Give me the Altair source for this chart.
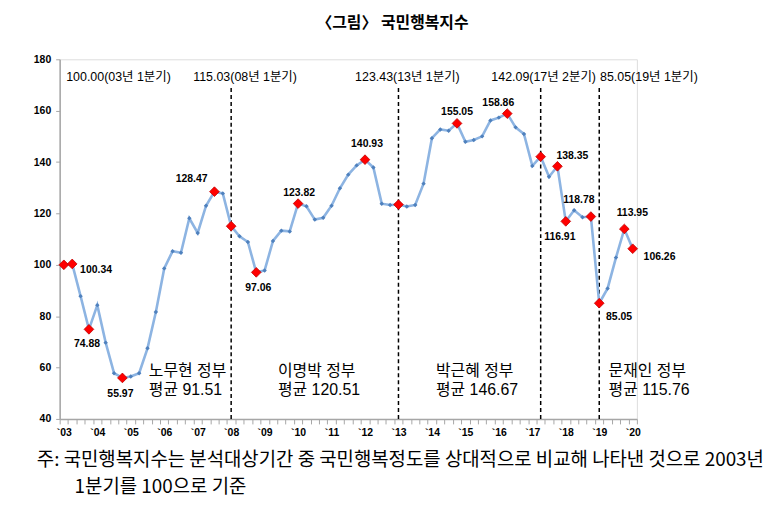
import altair as alt
import pandas as pd

# ---------------- data ----------------
start_year = 2003
values = [100.00, 100.34, 87.8, 74.88, 84.3, 69.7, 57.8, 55.97, 56.5, 57.8,
          67.5, 81.6, 98.6, 105.3, 104.7, 118.1, 112.4, 123.0, 128.47, 127.8,
          115.03, 111.1, 108.9, 97.06, 97.8, 109.3, 113.3, 113.0, 123.82, 122.8,
          117.6, 118.3, 123.0, 129.8, 135.1, 138.7, 140.93, 137.9, 123.8, 123.3,
          123.43, 122.7, 123.3, 131.6, 149.3, 152.7, 152.2, 155.05, 147.9, 148.6,
          150.0, 156.2, 157.3, 158.86, 153.5, 150.9, 138.5, 142.09, 134.3, 138.35,
          116.91, 121.2, 118.5, 118.78, 85.05, 90.8, 102.8, 113.95, 106.26]

highlight_idx = [0, 1, 3, 7, 18, 20, 23, 28, 36, 40, 47, 53, 57, 59, 60, 63, 64, 67, 68]
labeled_idx = [1, 3, 7, 18, 23, 28, 36, 47, 53, 59, 60, 63, 64, 67, 68]
label_dx = [24, -2, -2, -23, 2, 1, 2, 0, -9, 15, -6, -12, 20, 8, 27]
label_dy = [6, 15, 16, -13, 16, -11, -16, -11, -11, -10, 16, -17, 14, -16, 8]

divider_idx = [20, 40, 57, 64]
top_notes = ["100.00(03년 1분기)", "115.03(08년 1분기)", "123.43(13년 1분기)",
             "142.09(17년 2분기)", "85.05(19년 1분기)"]
top_note_idx = [0, 20, 40, 57, 64]
top_note_dx = [55, 14, 9, 3, 50]

gov_names = ["노무현 정부", "이명박 정부", "박근혜 정부", "문재인 정부"]
gov_avgs = ["평균 91.51", "평균 120.51", "평균 146.67", "평균 115.76"]
gov_label_t = [2005.54, 2009.40, 2014.12, 2019.28]

title_text = "〈그림〉 국민행복지수"
note_line1 = "주: 국민행복지수는 분석대상기간 중 국민행복정도를 상대적으로 비교해 나타낸 것으로 2003년"
note_line2 = "1분기를 100으로 기준"

y_ticks = [40, 60, 80, 100, 120, 140, 160, 180]

# ---------------- frames ----------------
def t_of(i):
    return start_year + i / 4

df = pd.DataFrame({"t": [t_of(i) for i in range(len(values))], "v": values})
hl = df.iloc[highlight_idx].reset_index(drop=True)
div = pd.DataFrame({"t": [t_of(i) for i in divider_idx], "lo": 40, "hi": 169})

x0, x1 = start_year - 0.125, 2020.125
boundary_vals = [x0 + k * 0.25 for k in range(70)]
year_vals = list(range(2003, 2021))
axis_vals = sorted(boundary_vals + year_vals)

x_scale = alt.Scale(domain=[x0, x1], nice=False, zero=False)
y_scale = alt.Scale(domain=[40, 180], nice=False, zero=False)

GRAY = "#A6A6A6"
NUMFONT = "Liberation Sans"
KFONT = "Liberation Sans, Noto Sans CJK KR"

x_axis = alt.Axis(
    values=axis_vals, title=None, grid=False,
    labelExpr="datum.value % 1 == 0 ? '`' + substring(toString(datum.value), 2, 4) : ''",
    labelOverlap=False, labelFlush=False,
    tickOpacity={"condition": {"test": "datum.value % 1 == 0", "value": 0}, "value": 1},
    tickSize=5, tickColor=GRAY, domainColor=GRAY, domainWidth=1.5,
    labelFont=NUMFONT, labelFontWeight="bold", labelFontSize=10.5, labelColor="black",
    labelPadding=4,
)
y_axis = alt.Axis(
    values=y_ticks, title=None, grid=False,
    tickSize=4, tickColor=GRAY, domainColor=GRAY, domainWidth=1.5,
    labelFont=NUMFONT, labelFontWeight="bold", labelFontSize=10.5, labelColor="black",
    labelPadding=5,
)

X = lambda f="t": alt.X(f + ":Q", scale=x_scale, axis=x_axis)
Y = lambda f="v": alt.Y(f + ":Q", scale=y_scale, axis=y_axis)

layers = []

rules = alt.Chart(div).mark_rule(color="black", strokeWidth=1.5, strokeDash=[4, 3]).encode(
    x=X(), y=Y("lo"), y2="hi:Q")
layers.append(rules)

line = alt.Chart(df).mark_line(color="#8DB4E2", strokeWidth=2.6).encode(x=X(), y=Y())
layers.append(line)

dots = alt.Chart(df).mark_point(shape="diamond", filled=True, size=20, color="#4F81BD",
                                opacity=1).encode(x=X(), y=Y())
layers.append(dots)

red = alt.Chart(hl).mark_point(shape="diamond", filled=True, size=95, color="#FF0000",
                               stroke="#C00000", strokeWidth=0.8, opacity=1).encode(x=X(), y=Y())
layers.append(red)

for i, dx, dy in zip(labeled_idx, label_dx, label_dy):
    d = pd.DataFrame({"t": [t_of(i)], "v": [values[i]], "lab": [f"{values[i]:.2f}"]})
    layers.append(alt.Chart(d).mark_text(font=NUMFONT, fontWeight="bold", fontSize=10.5,
                                         color="black", dx=dx, dy=dy, baseline="middle")
                  .encode(x=X(), y=Y(), text="lab:N"))

for i, txt, dx in zip(top_note_idx, top_notes, top_note_dx):
    d = pd.DataFrame({"t": [t_of(i)], "v": [173.2], "lab": [txt]})
    layers.append(alt.Chart(d).mark_text(font=KFONT, fontSize=12.5, color="black", dx=dx,
                                         baseline="middle")
                  .encode(x=X(), y=Y(), text="lab:N"))

gov = pd.DataFrame({"t": gov_label_t, "name": gov_names, "avg": gov_avgs,
                    "y1": 58.6, "y2": 51.3})
layers.append(alt.Chart(gov).mark_text(font=KFONT, fontSize=16, color="black", align="left",
                                       baseline="middle")
              .encode(x=X(), y=Y("y1"), text="name:N"))
layers.append(alt.Chart(gov).mark_text(font=KFONT, fontSize=16, color="black", align="left",
                                       baseline="middle")
              .encode(x=X(), y=Y("y2"), text="avg:N"))

# title and footnote
txt_df = pd.DataFrame({"a": [title_text], "b": [note_line1], "c": [note_line2]})
layers.append(alt.Chart(txt_df).mark_text(font="Noto Sans CJK KR", fontWeight="bold",
                                          fontSize=16, color="black", baseline="middle")
              .encode(x=alt.value(335), y=alt.value(-36), text="a:N"))
layers.append(alt.Chart(txt_df).mark_text(font="Noto Sans CJK KR", fontSize=19,
                                          color="black", align="left", baseline="middle")
              .encode(x=alt.value(-23), y=alt.value(403), text="b:N"))
layers.append(alt.Chart(txt_df).mark_text(font="Noto Sans CJK KR", fontSize=19,
                                          color="black", align="left", baseline="middle")
              .encode(x=alt.value(15), y=alt.value(431), text="c:N"))

chart = alt.layer(*layers).properties(
    width=581, height=362,
    autosize=alt.AutoSizeParams(type="none"),
    padding={"left": 52, "top": 50, "right": 136, "bottom": 85},
).configure_view(stroke=None).configure(background="white")

chart.save("out.html", embed_options={"renderer": "svg", "actions": False})
